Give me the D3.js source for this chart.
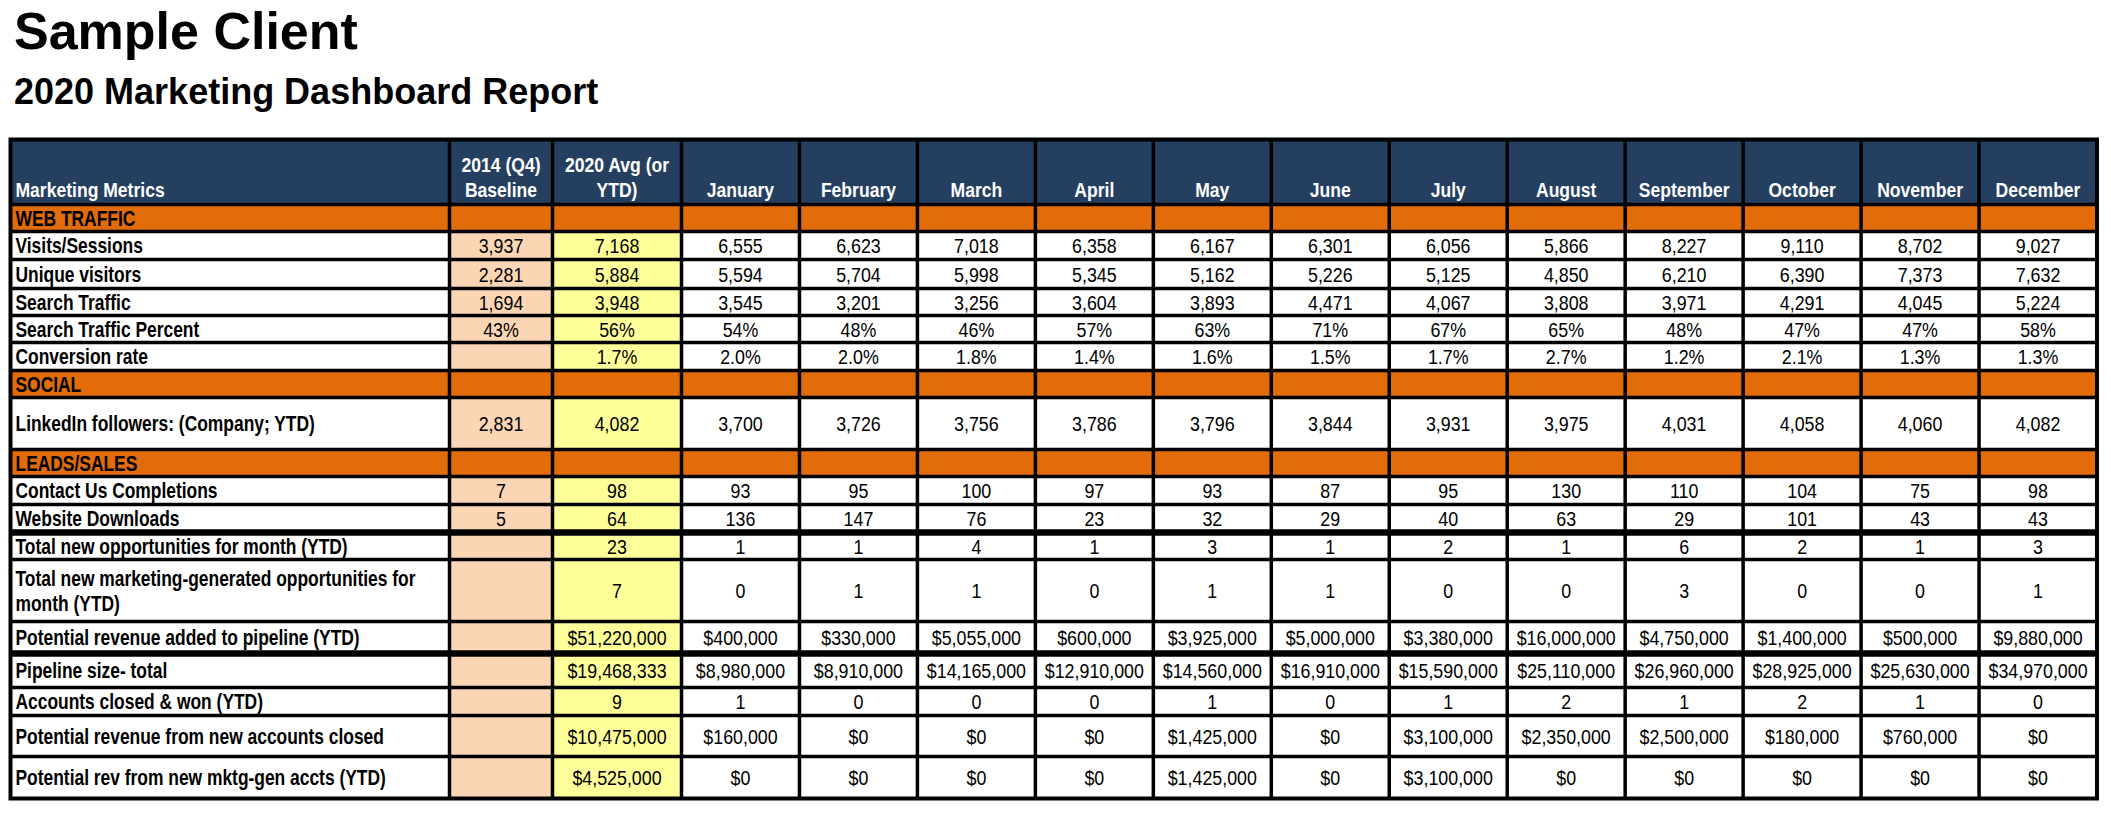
<!DOCTYPE html>
<html>
<head>
<meta charset="utf-8">
<style>
  body { margin: 0; background: #fff; }
  svg { display: block; }
</style>
</head>
<body>
<div id="dashboard"></div>
<script src="https://d3js.org/d3.v7.min.js"></script>
<script>
// ---- data ----
var months = ["January", "February", "March", "April", "May", "June",
              "July", "August", "September", "October", "November", "December"];

var headerBaseline = ["2014 (Q4)", "Baseline"];
var headerAverage = ["2020 Avg (or", "YTD)"];

var visits       = ["6,555", "6,623", "7,018", "6,358", "6,167", "6,301", "6,056", "5,866", "8,227", "9,110", "8,702", "9,027"];
var uniqueVisits = ["5,594", "5,704", "5,998", "5,345", "5,162", "5,226", "5,125", "4,850", "6,210", "6,390", "7,373", "7,632"];
var searchTraffic = ["3,545", "3,201", "3,256", "3,604", "3,893", "4,471", "4,067", "3,808", "3,971", "4,291", "4,045", "5,224"];
var searchPercent = ["54%", "48%", "46%", "57%", "63%", "71%", "67%", "65%", "48%", "47%", "47%", "58%"];
var conversion   = ["2.0%", "2.0%", "1.8%", "1.4%", "1.6%", "1.5%", "1.7%", "2.7%", "1.2%", "2.1%", "1.3%", "1.3%"];
var linkedin     = ["3,700", "3,726", "3,756", "3,786", "3,796", "3,844", "3,931", "3,975", "4,031", "4,058", "4,060", "4,082"];
var contactUs    = ["93", "95", "100", "97", "93", "87", "95", "130", "110", "104", "75", "98"];
var downloads    = ["136", "147", "76", "23", "32", "29", "40", "63", "29", "101", "43", "43"];
var newOpps      = ["1", "1", "4", "1", "3", "1", "2", "1", "6", "2", "1", "3"];
var mktgOpps     = ["0", "1", "1", "0", "1", "1", "0", "0", "3", "0", "0", "1"];
var revenueAdded = ["$400,000", "$330,000", "$5,055,000", "$600,000", "$3,925,000", "$5,000,000",
                    "$3,380,000", "$16,000,000", "$4,750,000", "$1,400,000", "$500,000", "$9,880,000"];
var pipeline     = ["$8,980,000", "$8,910,000", "$14,165,000", "$12,910,000", "$14,560,000", "$16,910,000",
                    "$15,590,000", "$25,110,000", "$26,960,000", "$28,925,000", "$25,630,000", "$34,970,000"];
var closedWon    = ["1", "0", "0", "0", "1", "0", "1", "2", "1", "2", "1", "0"];
var revenueClosed = ["$160,000", "$0", "$0", "$0", "$1,425,000", "$0",
                     "$3,100,000", "$2,350,000", "$2,500,000", "$180,000", "$760,000", "$0"];
var revenueMktg  = ["$0", "$0", "$0", "$0", "$1,425,000", "$0", "$3,100,000", "$0", "$0", "$0", "$0", "$0"];

// label, baseline, 2020 avg, monthly values (null values = section row)
var rows = [
  ["WEB TRAFFIC", "", "", null],
  ["Visits/Sessions", "3,937", "7,168", visits],
  ["Unique visitors", "2,281", "5,884", uniqueVisits],
  ["Search Traffic", "1,694", "3,948", searchTraffic],
  ["Search Traffic Percent", "43%", "56%", searchPercent],
  ["Conversion rate", "", "1.7%", conversion],
  ["SOCIAL", "", "", null],
  ["LinkedIn followers: (Company; YTD)", "2,831", "4,082", linkedin],
  ["LEADS/SALES", "", "", null],
  ["Contact Us Completions", "7", "98", contactUs],
  ["Website Downloads", "5", "64", downloads],
  ["Total new opportunities for month (YTD)", "", "23", newOpps],
  ["Total new marketing-generated opportunities for|month (YTD)", "", "7", mktgOpps],
  ["Potential revenue added to pipeline (YTD)", "", "$51,220,000", revenueAdded],
  ["Pipeline size- total", "", "$19,468,333", pipeline],
  ["Accounts closed & won (YTD)", "", "9", closedWon],
  ["Potential revenue from new accounts closed", "", "$10,475,000", revenueClosed],
  ["Potential rev from new mktg-gen accts (YTD)", "", "$4,525,000", revenueMktg]
];

// ---- layout ----
var W = 2111, H = 817;
var rowHeights = [65, 27, 28, 29, 27, 27, 28, 27, 52, 27, 28, 28, 27, 62, 32, 34, 28, 41, 42];
var thickAfter = [10, 13];   // rows (data index) followed by a heavy rule
var tableTop = 139.5;
var colLeft = 10.5, colBase = 449.5, colAvg = 552.5, colMonths = 681.5, colRight = 2097;

var navy = "#253f61", orange = "#e26b0a", peach = "#fcd5b4", yellow = "#ffff99";
var fontCell = "'Liberation Sans', Arial, sans-serif";

// text styles: size in px, horizontal squeeze to mimic the narrow spreadsheet font
var headerStyle = { size: 19.5, squeeze: 0.9, bold: true, color: "#fff" };
var labelStyle  = { size: 21.5, squeeze: 0.81, bold: true, color: "#000" };
var valueStyle  = { size: 20.5, squeeze: 0.87, bold: false, color: "#000" };

// row edges via cumulative heights
var edges = [tableTop];
rowHeights.forEach(function(h) { edges.push(edges[edges.length - 1] + h); });
function rowTop(i) { return edges[i]; }
function rowBottom(i) { return edges[i + 1]; }

var x = d3.scaleBand().domain(months).range([colMonths, colRight]);

var svg = d3.select("#dashboard").append("svg")
    .attr("width", W)
    .attr("height", H);

svg.append("rect").attr("width", W).attr("height", H).attr("fill", "#fff");

// titles
svg.append("text")
    .attr("x", 14).attr("y", 49)
    .style("font-family", fontCell).style("font-weight", "bold").style("font-size", "52px")
    .text("Sample Client");
svg.append("text")
    .attr("x", 14).attr("y", 104)
    .style("font-family", fontCell).style("font-weight", "bold").style("font-size", "36px")
    .text("2020 Marketing Dashboard Report");

var g = svg.append("g");

function cellText(xx, yy, s, st, anchor) {
  return g.append("text")
      .attr("transform", "translate(" + xx + "," + yy + ") scale(" + st.squeeze + ",1)")
      .attr("text-anchor", anchor || "start")
      .attr("fill", st.color)
      .style("font-family", fontCell)
      .style("font-weight", st.bold ? "bold" : "normal")
      .style("font-size", st.size + "px")
      .text(s);
}

// header background
g.append("rect")
    .attr("x", colLeft).attr("y", rowTop(0))
    .attr("width", colRight - colLeft).attr("height", rowHeights[0])
    .attr("fill", navy);

// body fills
rows.forEach(function(r, i) {
  var ri = i + 1;
  var t = rowTop(ri), h = rowHeights[ri];
  if (r[3] === null) {
    g.append("rect").attr("x", colLeft).attr("y", t).attr("width", colRight - colLeft).attr("height", h).attr("fill", orange);
  } else {
    g.append("rect").attr("x", colBase).attr("y", t).attr("width", colAvg - colBase).attr("height", h).attr("fill", peach);
    g.append("rect").attr("x", colAvg).attr("y", t).attr("width", colMonths - colAvg).attr("height", h).attr("fill", yellow);
  }
});

// header texts
var hb = rowBottom(0) - 7.5;
cellText(colLeft + 5, hb, "Marketing Metrics", headerStyle);
headerBaseline.forEach(function(s, k) {
  cellText((colBase + colAvg) / 2, hb - 25 * (headerBaseline.length - 1 - k), s, headerStyle, "middle");
});
headerAverage.forEach(function(s, k) {
  cellText((colAvg + colMonths) / 2, hb - 25 * (headerAverage.length - 1 - k), s, headerStyle, "middle");
});
months.forEach(function(m) { cellText(x(m) + x.bandwidth() / 2, hb, m, headerStyle, "middle"); });

// body texts
rows.forEach(function(r, i) {
  var ri = i + 1;
  var mid = (rowTop(ri) + rowBottom(ri)) / 2;
  var lines = r[0].split("|");
  lines.forEach(function(s, k) {
    cellText(colLeft + 5, mid + 7.5 + 25 * (k - (lines.length - 1) / 2), s, labelStyle);
  });
  if (r[3] === null) return;
  var vy = mid + 7.5;
  cellText((colBase + colAvg) / 2, vy, r[1], valueStyle, "middle");
  cellText((colAvg + colMonths) / 2, vy, r[2], valueStyle, "middle");
  months.forEach(function(m, k) { cellText(x(m) + x.bandwidth() / 2, vy, r[3][k], valueStyle, "middle"); });
});

// grid lines
var tableBottom = edges[edges.length - 1];
edges.slice(1, -1).forEach(function(e, k) {
  var heavy = thickAfter.indexOf(k - 1) >= 0;
  g.append("line")
      .attr("x1", colLeft).attr("x2", colRight)
      .attr("y1", e).attr("y2", e)
      .attr("stroke", "#000")
      .attr("stroke-width", heavy ? 6.5 : 3.5);
});
var verticals = [colBase, colAvg].concat(months.map(function(m) { return x(m); }));
verticals.forEach(function(cx) {
  g.append("line")
      .attr("x1", cx).attr("x2", cx)
      .attr("y1", tableTop).attr("y2", tableBottom)
      .attr("stroke", "#000").attr("stroke-width", 3.5);
});

g.append("rect")
    .attr("x", colLeft).attr("y", tableTop)
    .attr("width", colRight - colLeft).attr("height", tableBottom - tableTop)
    .attr("fill", "none").attr("stroke", "#000").attr("stroke-width", 4);
</script>
</body>
</html>
